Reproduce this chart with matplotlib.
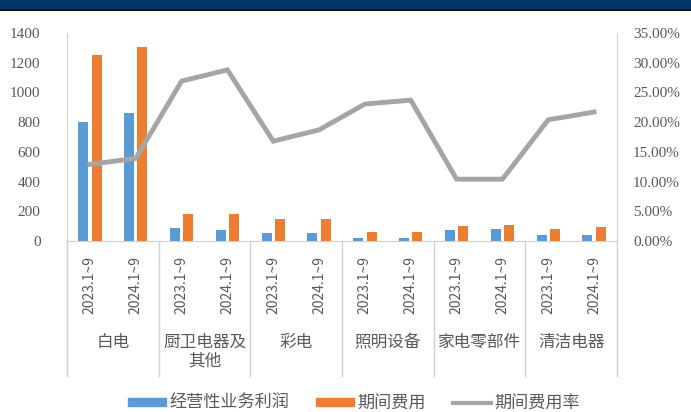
import matplotlib
matplotlib.use("Agg")
import matplotlib.pyplot as plt
import numpy as np
from matplotlib.patches import Rectangle
from matplotlib.lines import Line2D
import matplotlib.transforms as mtransforms

plt.rcParams['font.family'] = ['Noto Sans CJK SC', 'DejaVu Sans']

groups = ["白电", "厨卫电器及\n其他", "彩电", "照明设备", "家电零部件", "清洁电器"]
periods = ["2023.1~9", "2024.1~9"]
profit = [800, 862, 90, 72, 52, 52, 22, 22, 72, 81, 40, 40]
expense = [1255, 1303, 180, 180, 148, 148, 63, 63, 99, 110, 81, 92]
rate = [0.129, 0.139, 0.269, 0.288, 0.168, 0.187, 0.2305, 0.237, 0.104, 0.104, 0.204, 0.217]
left_ticks = [0, 200, 400, 600, 800, 1000, 1200, 1400]
right_ticks = [0, 0.05, 0.10, 0.15, 0.20, 0.25, 0.30, 0.35]
legend_labels = ["经营性业务利润", "期间费用", "期间费用率"]

c_blue = "#5B9BD5"
c_orange = "#ED7D31"
c_gray = "#A5A5A5"
c_text = "#595959"
c_axis = "#D0D0D0"

W, H = 691, 412
fig = plt.figure(figsize=(W / 100, H / 100), dpi=100)
fig.patches.append(Rectangle((0, 1 - 9 / H), 1, 9 / H, transform=fig.transFigure,
                             facecolor="#003366", edgecolor="none", zorder=0))
fig.patches.append(Rectangle((0, 1 - 11 / H), 1, 2 / H, transform=fig.transFigure,
                             facecolor="#111111", edgecolor="none", zorder=0))

x0, x1, yb, yt = 67, 617, 241, 33
ax = fig.add_axes([x0 / W, 1 - yb / H, (x1 - x0) / W, (yb - yt) / H])
ax2 = ax.twinx()

n = len(profit)
x = np.arange(n)
bw = 0.22
off = 0.145
ax.bar(x - off, profit, width=bw, color=c_blue, zorder=2)
ax.bar(x + off, expense, width=bw, color=c_orange, zorder=2)
ax2.plot(x, rate, color=c_gray, lw=3.5, solid_joinstyle='miter', zorder=3)

ax.set_xlim(-0.5, n - 0.5)
ax.set_ylim(0, 1400)
ax2.set_ylim(0, 0.35)
ax.set_yticks(left_ticks)
ax.set_yticklabels([str(v) for v in left_ticks], family="Liberation Serif", fontsize=11, color=c_text)
ax2.set_yticks(right_ticks)
ax2.set_yticklabels([f"{v*100:.2f}%" for v in right_ticks], family="Liberation Serif", fontsize=11, color=c_text)
ax.tick_params(axis='y', length=0, pad=19)
ax2.tick_params(axis='y', length=0, pad=11.5)

ax.set_xticks(x)
ax.set_xticklabels(periods * len(groups), rotation=90, fontsize=10, color=c_text,
                   family=['Noto Sans CJK SC', 'DejaVu Sans'])
ax.tick_params(axis='x', length=0, pad=11)

for a in (ax, ax2):
    for s in a.spines.values():
        s.set_visible(False)
ax.spines['left'].set_visible(True)
ax.spines['left'].set_color(c_axis)
ax2.spines['right'].set_visible(True)
ax2.spines['right'].set_color(c_axis)
ax.spines['bottom'].set_visible(True)
ax.spines['bottom'].set_color(c_axis)

trans = mtransforms.blended_transform_factory(ax.transData, ax.transAxes)
ybot = -(376 - 241) / (241 - 33)
for k in range(len(groups) + 1):
    xs = 2 * k - 0.5
    ax.plot([xs, xs], [0, ybot], transform=trans, color=c_axis, lw=1, clip_on=False)

ylab = -(334 - 241) / (241 - 33)
for g, name in enumerate(groups):
    ax.text(2 * g + 0.5, ylab, name, transform=trans, ha='center', va='top',
            fontsize=12, color=c_text, linespacing=1.1)

handles = [Rectangle((0, 0), 1, 1, color=c_blue),
           Rectangle((0, 0), 1, 1, color=c_orange),
           Line2D([], [], color=c_gray, lw=3)]
fig.legend(handles, legend_labels, loc='center', bbox_to_anchor=(354 / W, 1 - 403 / H),
           ncol=3, frameon=False, fontsize=12.3, handlelength=2.2, handleheight=0.4,
           handletextpad=0.2, columnspacing=1.6, labelcolor=c_text)

fig.savefig("out.png", dpi=100, facecolor="white")
